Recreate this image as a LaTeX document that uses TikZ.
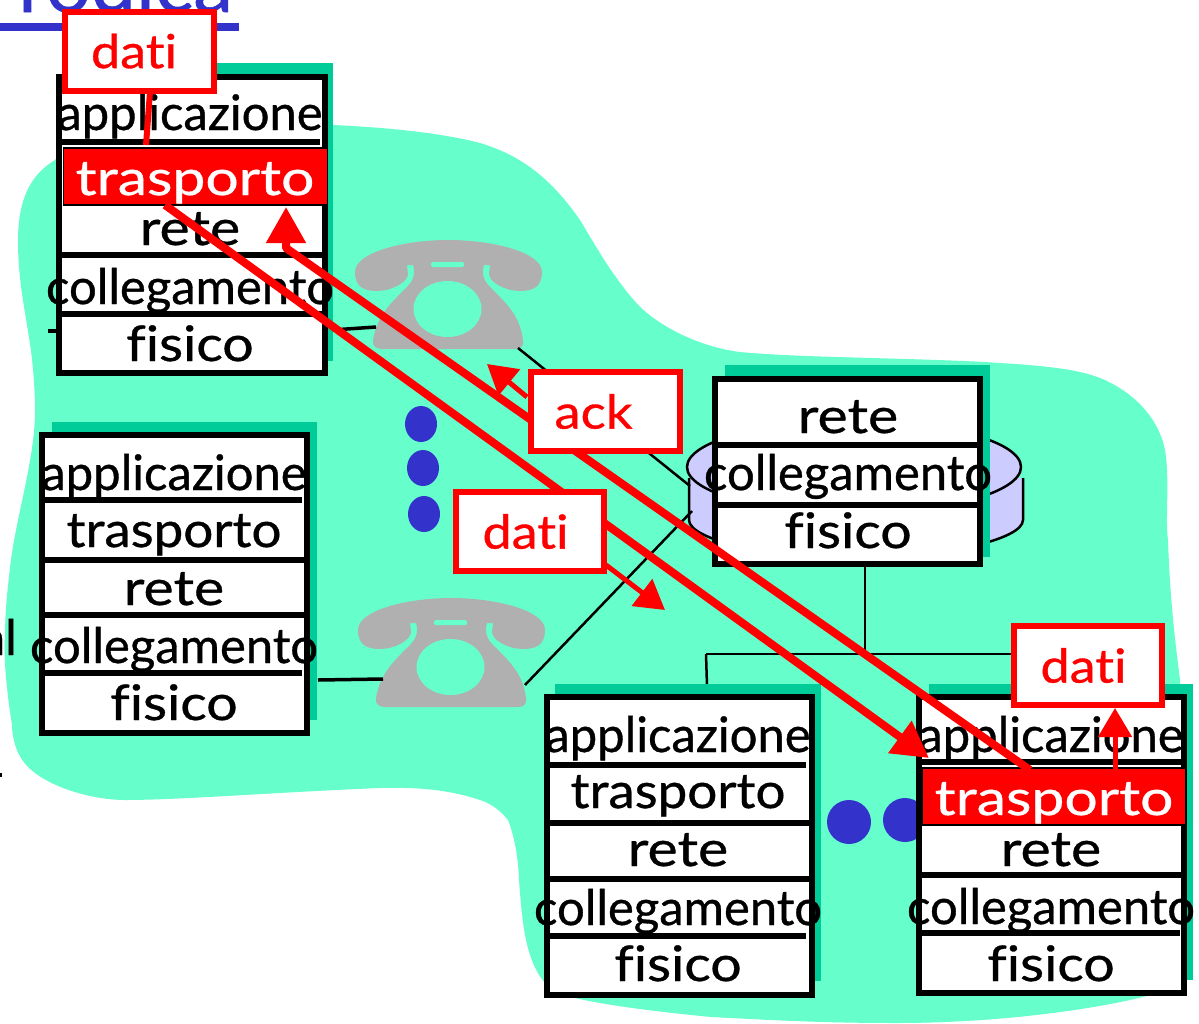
\documentclass[tikz,border=0pt]{standalone}
\usepackage{fontspec}
\setmainfont{Lato}[Ligatures={NoCommon},FakeBold=0.7]
\usetikzlibrary{arrows.meta}
\definecolor{cloudc}{HTML}{66FFCC}
\definecolor{shadowc}{HTML}{00CC99}
\definecolor{phonec}{HTML}{B0B0B0}
\definecolor{dotc}{HTML}{3333CC}
\definecolor{cylc}{HTML}{CCCCFF}
\definecolor{redc}{HTML}{FF0000}
\newcommand{\bigtxt}{\fontsize{49}{52}\selectfont}
\newcommand{\midtxt}{\fontsize{47}{50}\selectfont}
\newcommand{\wider}[2]{{\addfontfeature{FakeStretch=#1}#2}}
\newcommand{\msgtxt}[3]{\raisebox{#1}{\hspace*{0pt}#3\hspace*{#2}}}
\tikzset{
  x=1pt,y=-1pt,
  layertxt/.style={inner sep=0pt,text=black,font=\bigtxt,anchor=base},
  hitxt/.style={inner sep=0pt,text=white,font=\bigtxt,anchor=base},
  stackshadow/.style={fill=shadowc,draw=none},
  stackbox/.style={draw=black,fill=white,line width=6pt,line join=miter},
  divider/.style={draw=black,line width=5.5pt},
  hibox/.style={draw=black,fill=redc,line width=1.5pt},
  msgbox/.style={draw=redc,fill=white,line width=6pt,inner sep=0pt,text=redc,font=\midtxt},
  wire/.style={draw=black,line width=2.5pt},
  thickwire/.style={draw=black,line width=3.5pt},
  bigarrow/.style={draw=redc,line width=8pt,-{Triangle[length=36pt,width=38pt]}},
  smallarrow/.style={draw=redc,line width=5pt,-{Triangle[length=29pt,width=33pt]}},
  plainred/.style={draw=redc,line width=6pt},
  dot/.style={fill=dotc,draw=none},
  phonepic/.pic={
    \path[fill=phonec] (0,32) .. controls (0,12) and (50,0) .. (93,0)
      .. controls (137,0) and (187,12) .. (187,32)
      .. controls (187,47) and (178,51) .. (165,51)
      .. controls (150,51) and (134,42) .. (134,34) -- (135,25) -- (129,25)
      .. controls (126,35) and (130,42) .. (135,47)
      .. controls (150,62) and (165,75) .. (168,100)
      .. controls (169,107) and (165,109) .. (160,109) -- (27,109)
      .. controls (21,109) and (17,106) .. (18,100)
      .. controls (22,75) and (37,62) .. (52,47)
      .. controls (57,42) and (61,35) .. (58,25) -- (52,25) -- (53,34)
      .. controls (53,42) and (37,51) .. (22,51)
      .. controls (9,51) and (0,47) .. (0,32) -- cycle;
    \path[fill=cloudc] (92.5,69) ellipse [x radius=34, y radius=28];
    \path[fill=cloudc,rounded corners=1.5pt] (76,22) rectangle (109,27);
  }
}
\begin{document}
\begin{tikzpicture}
\useasboundingbox (0,0) rectangle (1199,1023);
\fill[white] (0,0) rectangle (1199,1023);

% cloud
\path[fill=cloudc] (18,241)
  .. controls (18,200) and (30,175) .. (55,160)
  .. controls (80,130) and (200,122) .. (333,125)
  .. controls (400,128) and (450,135) .. (480,143)
  .. controls (520,155) and (550,177) .. (580,220)
  .. controls (595,245) and (605,262) .. (613,273)
  .. controls (625,290) and (635,303) .. (647,313)
  .. controls (665,328) and (700,347) .. (740,352)
  .. controls (800,358) and (930,358) .. (1000,363)
  .. controls (1050,366) and (1080,370) .. (1100,378)
  .. controls (1130,390) and (1158,415) .. (1165,450)
  .. controls (1170,480) and (1165,520) .. (1168,540)
  .. controls (1170,600) and (1175,640) .. (1180,680)
  -- (1180,985)
  .. controls (1150,1000) and (1030,1023) .. (896,1023)
  .. controls (820,1023) and (770,1020) .. (711,1017)
  .. controls (660,1012) and (610,1006) .. (575,998)
  .. controls (560,993) and (550,990) .. (545,983)
  .. controls (525,960) and (522,920) .. (519,880)
  .. controls (518,850) and (512,830) .. (508,820)
  .. controls (500,810) and (490,803) .. (480,800)
  .. controls (450,790) and (420,787) .. (380,788)
  .. controls (280,792) and (180,800) .. (125,800)
  .. controls (90,800) and (40,785) .. (23,761)
  .. controls (15,750) and (12,735) .. (12,725)
  .. controls (8,700) and (3,660) .. (5,636)
  .. controls (5,610) and (8,585) .. (10,568)
  .. controls (15,520) and (35,460) .. (35,411)
  .. controls (35,375) and (30,344) .. (30,344)
  .. controls (25,310) and (18,280) .. (18,241) -- cycle;

% heading remnant at the top edge
\node[inner sep=0pt,anchor=base west,text=dotc,font=\fontsize{80}{82}\selectfont] (heading) at (18,12) {rodica};
\path[fill=dotc] (0,23) rectangle (239,31);
\node[layertxt,anchor=base east] (leftcut) at (17,655) {al};
\path[fill=black] (0,773) rectangle (2,777);

% cylinder of the router
\path[fill=cylc,draw=black,line width=2.5pt] (689,478) -- (689,520)
  .. controls (689,540) and (770,558) .. (855,558)
  .. controls (940,558) and (1023,540) .. (1023,520) -- (1023,478);
\path[fill=cylc,draw=black,line width=2.5pt] (854,467) ellipse [x radius=167, y radius=46];

% telephones
\pic (phoneA) at (355,240) {phonepic};
\pic (phoneB) at (358,598) {phonepic};

% free ends of the wires
\coordinate (hostAout) at (332,330);
\coordinate (phoneAin) at (376,327);
\coordinate (hostAstub) at (48,331);
\coordinate (phoneAout) at (518,348);
\coordinate (routerInA) at (690,486);
\coordinate (hostBout) at (318,680);
\coordinate (phoneBin) at (383,679);
\coordinate (phoneBout) at (525,685);
\coordinate (routerInB) at (692,511);
\coordinate (routerOut) at (865,565);
\coordinate (busJoin) at (865,654);
\coordinate (busLeft) at (706,654);
\coordinate (busRight) at (1015,654);
\coordinate (hostCdrop) at (707,686);

\draw[thickwire] (hostAout) -- (phoneAin);
\draw[thickwire] (hostAstub) -- (60,331);
\draw[wire] (phoneAout) -- (routerInA);
\draw[thickwire] (hostBout) -- (phoneBin);
\draw[wire] (phoneBout) -- (routerInB);
\draw[wire] (routerOut) -- (busJoin);
\draw[wire] (busLeft) -- (busRight);
\draw[wire] (busLeft) -- (hostCdrop);

% dots
\path[dot] (421,424) ellipse [x radius=16, y radius=18];
\path[dot] (423,468) ellipse [x radius=16, y radius=18];
\path[dot] (424,514) ellipse [x radius=16, y radius=18];
\path[dot] (849,822) ellipse [x radius=22, y radius=22];
\path[dot] (905,820) ellipse [x radius=22, y radius=22];

% host A (top left)
\path[stackshadow] (66,63) rectangle (333,361);
\node[stackbox,minimum width=266pt,minimum height=296pt,inner sep=0pt] (hostA) at (191.5,225) {};
\draw[divider] (60,142) -- (320,142);
\draw[divider] (60,255) -- (323,255);
\draw[divider] (60,314) -- (323,314);
\node[hibox,minimum width=264pt,minimum height=57pt,inner sep=0pt] (hostAhi) at (195.5,176.5) {};
\node[layertxt] (a1) at (190,130) {applicazione};
\node[hitxt] (a2) at (195,195) {\wider{1.2}{trasporto}};
\node[layertxt] (a3) at (190,245) {\wider{1.17}{rete}};
\node[layertxt] (a4) at (190,304) {collegamento};
\node[layertxt] (a5) at (190,361) {\wider{1.13}{fisico}};

% host B (left)
\path[stackshadow] (52,422) rectangle (317,720);
\node[stackbox,minimum width=265pt,minimum height=298pt,inner sep=0pt] (hostB) at (174.5,583.5) {};
\draw[divider] (44,500) -- (302,500);
\draw[divider] (44,560) -- (304,560);
\draw[divider] (44,615) -- (304,615);
\draw[divider] (44,673) -- (302,673);
\node[layertxt] (b1) at (174,490) {applicazione};
\node[layertxt] (b2) at (174,547) {\wider{1.08}{trasporto}};
\node[layertxt] (b3) at (174,605) {\wider{1.17}{rete}};
\node[layertxt] (b4) at (174,663) {collegamento};
\node[layertxt] (b5) at (174,720) {\wider{1.13}{fisico}};

% host C (bottom middle)
\path[stackshadow] (555,684) rectangle (821,981);
\node[stackbox,minimum width=265pt,minimum height=298pt,inner sep=0pt] (hostC) at (679,846) {};
\draw[divider] (548,765) -- (806,765);
\draw[divider] (548,823) -- (810,823);
\draw[divider] (548,879) -- (810,879);
\draw[divider] (548,936) -- (806,936);
\node[layertxt] (c1) at (678,752) {applicazione};
\node[layertxt] (c2) at (678,808) {\wider{1.08}{trasporto}};
\node[layertxt] (c3) at (678,866) {\wider{1.17}{rete}};
\node[layertxt] (c4) at (678,925) {collegamento};
\node[layertxt] (c5) at (678,981) {\wider{1.13}{fisico}};

% host D (bottom right)
\path[stackshadow] (929,684) rectangle (1193,980);
\node[stackbox,minimum width=265pt,minimum height=296pt,inner sep=0pt] (hostD) at (1051.5,844.5) {};
\draw[divider] (920,762) -- (1182,762);
\draw[divider] (920,875) -- (1182,875);
\draw[divider] (920,933) -- (1180,933);
\node[hibox,minimum width=264pt,minimum height=57pt,inner sep=0pt] (hostDhi) at (1054,796.5) {};
\node[layertxt] (d1) at (1051,752) {applicazione};
\node[hitxt] (d2) at (1054,815) {\wider{1.2}{trasporto}};
\node[layertxt] (d3) at (1051,866) {\wider{1.17}{rete}};
\node[layertxt] (d4) at (1051,924) {collegamento};
\node[layertxt] (d5) at (1051,981) {\wider{1.13}{fisico}};

% router
\path[stackshadow] (725,365) rectangle (990,557);
\node[stackbox,minimum width=265pt,minimum height=185pt,inner sep=0pt] (router) at (847,471.5) {};
\draw[divider] (716,445) -- (978,445);
\draw[divider] (718,505) -- (978,505);
\node[layertxt] (r1) at (848,433) {\wider{1.17}{rete}};
\node[layertxt] (r2) at (848,490) {collegamento};
\node[layertxt] (r3) at (848,548) {\wider{1.13}{fisico}};

% long red arrows
\coordinate (dataStart) at (165,205);
\coordinate (dataTip) at (929,758);
\coordinate (ackStart) at (1030,770);
\coordinate (ackBend) at (286,248);
\coordinate (ackTip) at (286,207);
\draw[bigarrow] (dataStart) -- (dataTip);
\draw[bigarrow,line join=round] (ackStart) -- (ackBend) -- (ackTip);

% message boxes and their small arrows
\node[msgbox,minimum width=149pt,minimum height=79pt] (msgA) at (139.5,51) {\msgtxt{-2pt}{11pt}{\wider{1.11}{dati}}};
\node[msgbox,minimum width=149pt,minimum height=79pt] (msgAck) at (605.5,411.5) {\msgtxt{-3pt}{24pt}{\wider{1.12}{ack}}};
\node[msgbox,minimum width=148pt,minimum height=79pt] (msgB) at (529.5,531.5) {\msgtxt{-3pt}{8pt}{\wider{1.11}{dati}}};
\node[msgbox,minimum width=148pt,minimum height=79pt] (msgC) at (1087.5,665.5) {\msgtxt{-3pt}{8pt}{\wider{1.11}{dati}}};

\coordinate (hostAtop) at (146,145);
\coordinate (msgAfoot) at (150,92);
\draw[plainred] (msgAfoot) -- (hostAtop);
\coordinate (ackSmallStart) at (527,397);
\coordinate (ackSmallTip) at (487,364);
\draw[smallarrow] (ackSmallStart) -- (ackSmallTip);
\coordinate (datiSmallStart) at (606,565);
\coordinate (datiSmallTip) at (665,610);
\draw[smallarrow] (datiSmallStart) -- (datiSmallTip);
\coordinate (hostDup) at (1115,770);
\draw[smallarrow] (hostDup) -- (msgC.south -| hostDup);
\end{tikzpicture}
\end{document}
